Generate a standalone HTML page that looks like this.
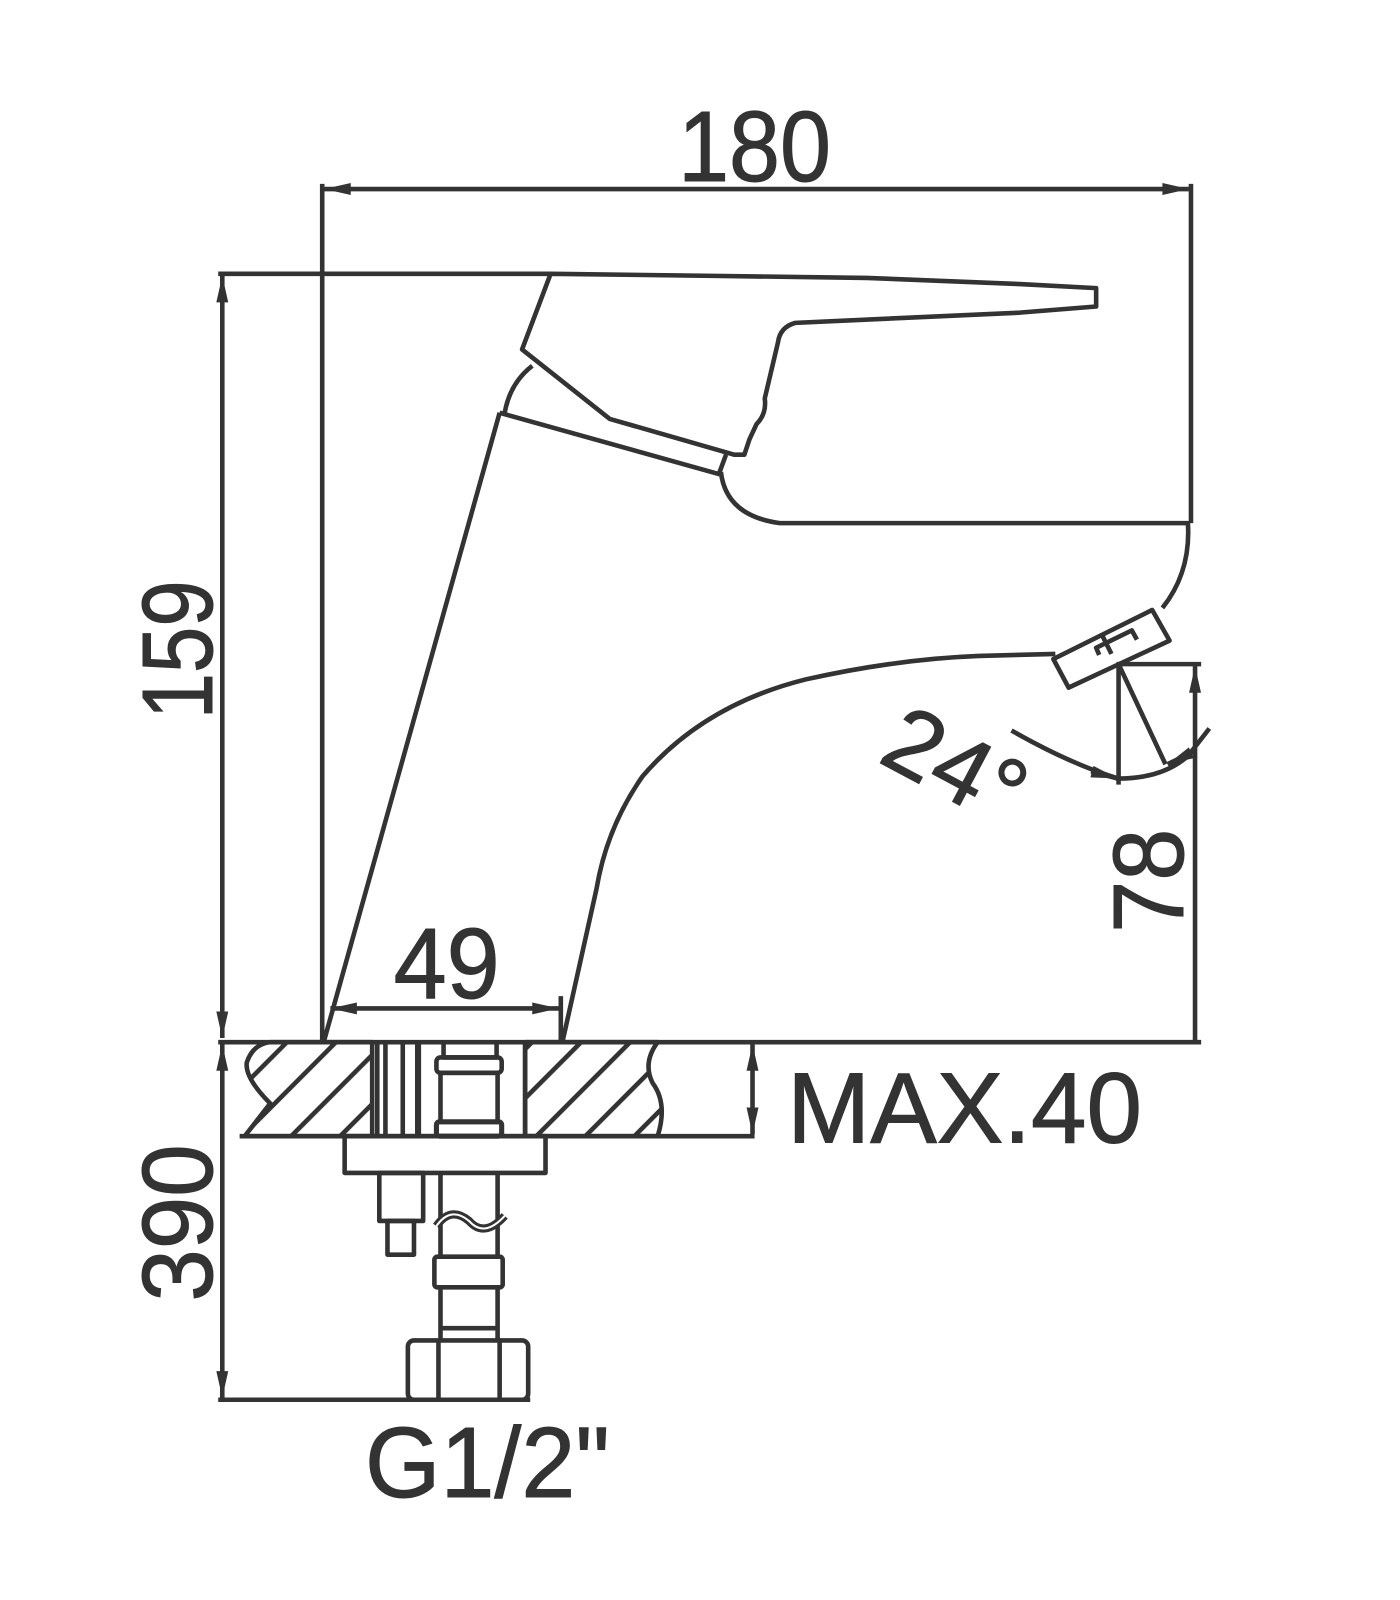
<!DOCTYPE html>
<html><head><meta charset="utf-8"><style>
html,body{margin:0;padding:0;background:#fff;width:1400px;height:1600px;overflow:hidden}
svg{display:block}
text{font-family:"Liberation Sans",sans-serif;fill:#333;stroke:#333;stroke-width:1}
</style></head><body>
<svg width="1400" height="1600" viewBox="0 0 1373 1566" preserveAspectRatio="none">
<defs>
<marker id="a" viewBox="0 0 20 10" refX="20" refY="5" markerWidth="28" markerHeight="13" markerUnits="userSpaceOnUse" orient="auto-start-reverse"><path d="M0,0.5 L20,5 L0,9.5 Z" fill="#333"/></marker>
<pattern id="h" patternUnits="userSpaceOnUse" width="34" height="34" patternTransform="rotate(45)"><rect width="34" height="34" fill="#fff"/><rect x="0" y="0" width="4.5" height="34" fill="#333"/></pattern>
</defs>
<g fill="none" stroke="#333" stroke-width="4.5" stroke-linejoin="round">
<line x1="318" y1="185" x2="1166" y2="185" marker-start="url(#a)" marker-end="url(#a)"/>
<line x1="316" y1="180" x2="316" y2="1018"/>
<line x1="1168" y1="180" x2="1168" y2="512"/>
<line x1="218" y1="270" x2="218" y2="1016" marker-start="url(#a)" marker-end="url(#a)"/>
<line x1="214" y1="268" x2="540" y2="268"/>
<path d="M540,268 L700,270 L850,272 L1000,278 L1075,282 L1075,300 L1000,306 L780,316 Q765,320 763,335 L750,390 Q752,405 742,415 L735,430 L730,445 L720,445 L598,410 L512,342 Z"/>
<path d="M522,358 Q500,375 495,404"/>
<path d="M490,404 L705,464 L712,445"/>
<path d="M490,404 L318,1018"/>
<path d="M707,462 Q712,505 765,512 L1165,512 Q1168,560 1140,595"/>
<path d="M1035,640 L960,642 Q880,645 790,665 Q690,690 630,760 Q595,810 585,870 L552,1018"/>
<path d="M1033,645 L1130,597 L1147,627 L1048,673 Z"/>
<path d="M1080,620 L1090,640 M1078,641 L1075,634 L1110,617 L1115,626"/>
<line x1="324" y1="987" x2="548" y2="987" marker-start="url(#a)" marker-end="url(#a)"/>
<line x1="550" y1="975" x2="550" y2="1018"/>
<line x1="214" y1="1020" x2="1178" y2="1020"/>
<line x1="1095" y1="650" x2="1178" y2="650"/>
<line x1="1172" y1="652" x2="1172" y2="1018" marker-start="url(#a)"/>
<line x1="1097" y1="650" x2="1097" y2="768"/>
<line x1="1097" y1="650" x2="1143" y2="748"/>
<path d="M992,715 Q1050,748 1097,762 Q1140,762 1165,740 L1186,713"/>
<path d="M1070,755 L1096,762" marker-end="url(#a)"/>
<path d="M1170,736 L1145,748" marker-end="url(#a)"/>
<path d="M240,1112 L265,1080 Q240,1055 242,1040 Q248,1022 265,1020 L365,1020 L365,1112 Z" fill="url(#h)"/>
<path d="M515,1020 L645,1020 Q630,1040 640,1060 Q655,1080 645,1112 L515,1112 Z" fill="url(#h)"/>
<line x1="235" y1="1112" x2="740" y2="1112"/>
<line x1="370" y1="1020" x2="370" y2="1112"/>
<line x1="378" y1="1020" x2="378" y2="1112"/>
<line x1="395" y1="1020" x2="395" y2="1112"/>
<line x1="410" y1="1020" x2="410" y2="1112" stroke-width="6"/>
<line x1="515" y1="1020" x2="515" y2="1112"/>
<path d="M435,1020 L435,1035 L487,1035 L487,1020"/>
<rect x="428" y="1035" width="64" height="15" rx="4"/>
<rect x="432" y="1050" width="56" height="48"/>
<rect x="428" y="1098" width="64" height="14" rx="3" stroke-width="5"/>
<line x1="738" y1="1022" x2="738" y2="1110" marker-start="url(#a)" marker-end="url(#a)"/>
<rect x="338" y="1112" width="197" height="36"/>
<rect x="372" y="1148" width="43" height="47"/>
<rect x="380" y="1195" width="26" height="33"/>
<path d="M432,1148 L432,1230 M488,1148 L488,1230"/>
<path d="M428,1200 Q442,1180 460,1195 Q475,1212 495,1190" stroke-width="8"/>
<path d="M428,1200 Q442,1180 460,1195 Q475,1212 495,1190" stroke="#fff" stroke-width="2"/>
<rect x="426" y="1230" width="67" height="30" rx="3"/>
<path d="M432,1260 L432,1310 M488,1260 L488,1310 M432,1300 L488,1300"/>
<rect x="400" y="1312" width="118" height="58" rx="6"/>
<path d="M430,1312 L430,1370 M490,1312 L490,1370"/>
<line x1="218" y1="1022" x2="218" y2="1368" marker-start="url(#a)" marker-end="url(#a)"/>
<line x1="214" y1="1370" x2="520" y2="1370"/>
</g>
<g font-size="98" lengthAdjust="spacingAndGlyphs">
<text x="740" y="177" text-anchor="middle" textLength="150" lengthAdjust="spacingAndGlyphs">180</text>
<text x="438" y="977" text-anchor="middle" textLength="104" lengthAdjust="spacingAndGlyphs">49</text>
<text x="772" y="1118" textLength="348" lengthAdjust="spacingAndGlyphs">MAX.40</text>
<text x="478" y="1465" text-anchor="middle" textLength="240" lengthAdjust="spacingAndGlyphs">G1/2"</text>
<text transform="translate(208,636) rotate(-90)" text-anchor="middle" textLength="136" lengthAdjust="spacingAndGlyphs">159</text>
<text transform="translate(208,1197) rotate(-90)" text-anchor="middle" textLength="154" lengthAdjust="spacingAndGlyphs">390</text>
<text transform="translate(1160,862) rotate(-90)" text-anchor="middle" textLength="102" lengthAdjust="spacingAndGlyphs">78</text>
<text transform="translate(922,778) rotate(28)" text-anchor="middle" font-size="94">24°</text>
</g>
</svg>
</body></html>
